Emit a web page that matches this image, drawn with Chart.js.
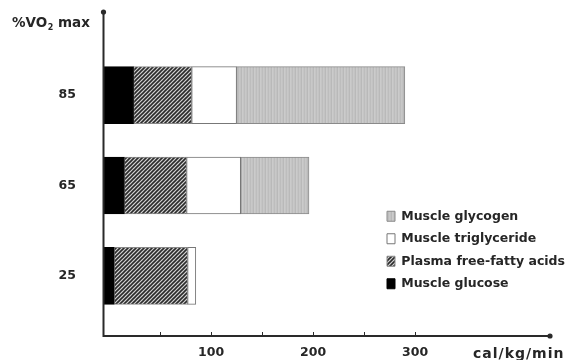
<!DOCTYPE html>
<html>
<head>
<meta charset="utf-8">
<script src="https://cdn.jsdelivr.net/npm/chart.js@4/dist/chart.umd.min.js"></script>
<style>
  html, body { margin: 0; padding: 0; background: #fff; }
  #wrap { width: 568px; height: 360px; }
</style>
</head>
<body>
<div id="wrap"><canvas id="chart" width="568" height="360"></canvas></div>
<script>
// %VO2 max levels (top to bottom)
const intensities = ['85', '65', '25'];

// energy sources, cal/kg/min
const muscleGlucose = [24, 15, 5];
const plasmaFFA = [57, 61, 72];
const muscleTriglyceride = [44, 53, 8];
const muscleGlycogen = [165, 67, 0];

const xTickValues = [50, 100, 150, 200, 250, 300];
const xTickLabels = ['', '100', '', '200', '', '300'];

const FONT = 'DejaVu Sans';

const canvas = document.getElementById('chart');
const ctx = canvas.getContext('2d');

// diagonal hatch for the plasma FFA segment
function hatchPattern() {
  const tile = document.createElement('canvas');
  tile.width = 4; tile.height = 4;
  const g = tile.getContext('2d');
  g.fillStyle = '#d4d4d4';
  g.fillRect(0, 0, 4, 4);
  g.strokeStyle = '#2b2b2b';
  g.lineWidth = 1.6;
  g.beginPath();
  g.moveTo(0, 4); g.lineTo(4, 0);
  g.moveTo(-1, 1); g.lineTo(1, -1);
  g.moveTo(3, 5); g.lineTo(5, 3);
  g.stroke();
  return ctx.createPattern(tile, 'repeat');
}

// faint vertical stripes for glycogen
function stripePattern() {
  const cols = ['#c3c3c3', '#b9b9b9', '#cbcbcb', '#c5c5c5', '#bdbdbd', '#c8c8c8'];
  const tile = document.createElement('canvas');
  tile.width = cols.length; tile.height = 1;
  const g = tile.getContext('2d');
  cols.forEach((c, i) => { g.fillStyle = c; g.fillRect(i, 0, 1, 1); });
  return ctx.createPattern(tile, 'repeat');
}

// axis lines with dots, title and unit label
const decorations = {
  id: 'decorations',
  beforeDraw(chart) {
    // move the legend to the lower right of the plot
    const lg = chart.legend;
    lg.left = 377; lg.right = 568;
    lg.top = 200; lg.bottom = 360;
  },
  afterDraw(chart) {
    const c = chart.ctx;
    const xs = chart.scales.x;
    const ax = 103.5, ay = 336;
    c.save();
    c.strokeStyle = '#2a2a2a';
    c.fillStyle = '#2a2a2a';
    c.lineWidth = 2;
    c.beginPath();
    c.moveTo(ax, 12); c.lineTo(ax, ay);
    c.lineTo(550, ay);
    c.stroke();
    c.beginPath(); c.arc(ax, 12, 2.6, 0, Math.PI * 2); c.fill();
    c.beginPath(); c.arc(550, ay, 2.6, 0, Math.PI * 2); c.fill();

    c.lineWidth = 1;
    xTickValues.forEach(v => {
      const px = Math.round(xs.getPixelForValue(v)) + 0.5;
      c.beginPath(); c.moveTo(px, ay - 4); c.lineTo(px, ay); c.stroke();
    });

    c.fillStyle = '#262626';
    c.textBaseline = 'alphabetic';
    c.textAlign = 'left';
    c.font = 'bold 13.5px "' + FONT + '"';
    let x = 12;
    c.fillText('%VO', x, 27);
    x += c.measureText('%VO').width;
    c.font = 'bold 8px "' + FONT + '"';
    c.fillText('2', x + 0.5, 30);
    x += c.measureText('2').width + 0.5;
    c.font = 'bold 13.5px "' + FONT + '"';
    c.fillText(' max', x, 27);

    c.font = 'bold 14px "' + FONT + '"';
    c.letterSpacing = '1px';
    c.fillText('cal/kg/min', 473, 358);
    c.restore();
  }
};

new Chart(canvas, {
  type: 'bar',
  data: {
    labels: intensities,
    datasets: [
      {
        label: 'Muscle glucose',
        data: muscleGlucose,
        base: -6,
        backgroundColor: '#000',
        borderColor: '#000',
        borderWidth: 1
      },
      {
        label: 'Plasma free-fatty acids',
        data: plasmaFFA,
        backgroundColor: hatchPattern(),
        borderColor: '#888',
        borderWidth: 1
      },
      {
        label: 'Muscle triglyceride',
        data: muscleTriglyceride,
        backgroundColor: '#fff',
        borderColor: '#777',
        borderWidth: 1
      },
      {
        label: 'Muscle glycogen',
        data: muscleGlycogen,
        backgroundColor: stripePattern(),
        borderColor: '#8a8a8a',
        borderWidth: 1
      }
    ]
  },
  options: {
    indexAxis: 'y',
    responsive: false,
    animation: false,
    devicePixelRatio: 1,
    datasets: {
      bar: { barThickness: 57, borderSkipped: false }
    },
    layout: {
      padding: { left: 0, right: 51, top: 50, bottom: 0 }
    },
    scales: {
      x: {
        stacked: true,
        min: -6,
        max: 400,
        grid: { display: false, drawTicks: false },
        border: { display: false },
        afterBuildTicks: (scale) => {
          scale.ticks = xTickValues.map(v => ({ value: v }));
        },
        afterFit: (scale) => { scale.height = 39; },
        ticks: {
          autoSkip: false,
          maxRotation: 0,
          padding: 24,
          color: '#262626',
          font: { family: FONT, size: 12.5, weight: 'bold' },
          callback: (v) => xTickLabels[xTickValues.indexOf(v)] || ''
        }
      },
      y: {
        stacked: true,
        grid: { display: false, drawTicks: false },
        border: { display: false },
        afterFit: (scale) => { scale.width = 103; },
        ticks: {
          autoSkip: false,
          padding: 27,
          color: '#262626',
          font: { family: FONT, size: 12.5, weight: 'bold' }
        }
      }
    },
    plugins: {
      legend: {
        position: 'chartArea',
        align: 'start',
        reverse: true,
        labels: {
          boxWidth: 8,
          boxHeight: 10,
          padding: 10,
          color: '#262626',
          font: { family: FONT, size: 12.5, weight: 'bold' }
        }
      },
      tooltip: { enabled: false }
    }
  },
  plugins: [decorations]
});
</script>
</body>
</html>
